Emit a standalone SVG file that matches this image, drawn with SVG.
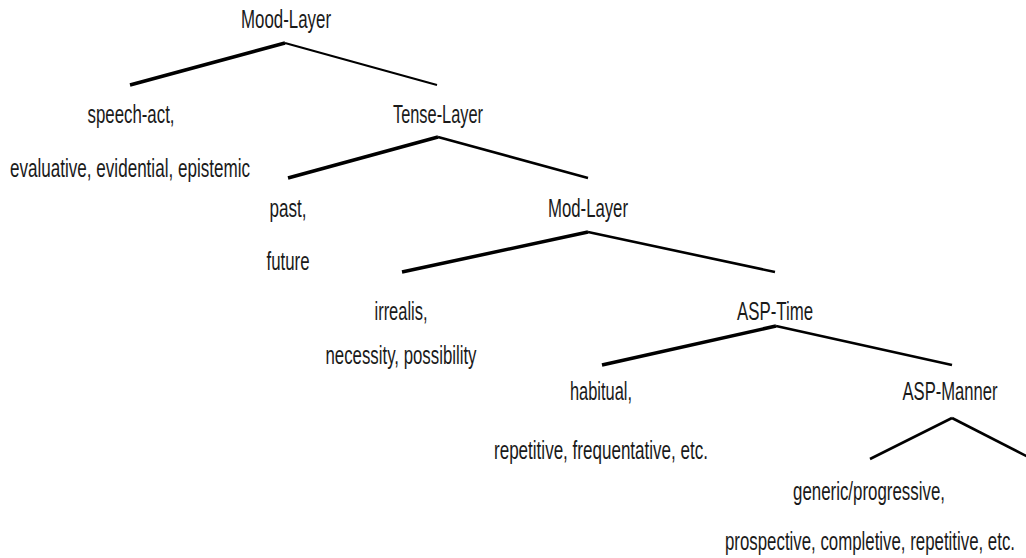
<svg xmlns="http://www.w3.org/2000/svg" width="1026" height="558" viewBox="0 0 1026 558">
<style>
text{font-family:"Liberation Sans",Arial,sans-serif;font-size:25px;fill:#1a1a1a;text-anchor:middle}
.e{fill:none;stroke:#000;stroke-linecap:butt}
.l{stroke-width:3.5}
.r{stroke-width:2.6}
</style>
<rect width="1026" height="558" fill="#fff"/>
<g id="connectors">
<polyline class="e l" points="130,85 285,43"/>
<polyline class="e" stroke-width="2" points="285,43 437,85"/>
<polyline class="e l" points="288,178 438,137"/>
<polyline class="e r" points="438,137 588,178"/>
<polyline class="e l" points="402,272 588,232"/>
<polyline class="e r" points="588,232 775,272"/>
<polyline class="e l" points="602,365 776,326"/>
<polyline class="e r" points="776,326 952,365"/>
<polyline class="e r" points="870,459 952,418"/>
<polyline class="e r" points="952,418 1034,460"/>
</g>
<g id="mood-layer"><text x="286" y="28" textLength="90" lengthAdjust="spacingAndGlyphs">Mood-Layer</text></g>
<g id="mood-leaf">
<text x="131" y="123" textLength="87" lengthAdjust="spacingAndGlyphs">speech-act,</text>
<text x="130" y="177" textLength="240" lengthAdjust="spacingAndGlyphs">evaluative, evidential, epistemic</text>
</g>
<g id="tense-layer"><text x="438" y="123" textLength="90" lengthAdjust="spacingAndGlyphs">Tense-Layer</text></g>
<g id="tense-leaf">
<text x="288" y="217" textLength="37" lengthAdjust="spacingAndGlyphs">past,</text>
<text x="288" y="270" textLength="43" lengthAdjust="spacingAndGlyphs">future</text>
</g>
<g id="mod-layer"><text x="588" y="217" textLength="80" lengthAdjust="spacingAndGlyphs">Mod-Layer</text></g>
<g id="mod-leaf">
<text x="401" y="320" textLength="53" lengthAdjust="spacingAndGlyphs">irrealis,</text>
<text x="401" y="364" textLength="151" lengthAdjust="spacingAndGlyphs">necessity, possibility</text>
</g>
<g id="asp-time"><text x="775" y="320" textLength="76" lengthAdjust="spacingAndGlyphs">ASP-Time</text></g>
<g id="asp-time-leaf">
<text x="601" y="400" textLength="62" lengthAdjust="spacingAndGlyphs">habitual,</text>
<text x="601" y="459" textLength="214" lengthAdjust="spacingAndGlyphs">repetitive, frequentative, etc.</text>
</g>
<g id="asp-manner"><text x="950" y="400" textLength="95" lengthAdjust="spacingAndGlyphs">ASP-Manner</text></g>
<g id="asp-manner-leaf">
<text x="869" y="500" textLength="152" lengthAdjust="spacingAndGlyphs">generic/progressive,</text>
<text x="870" y="550" textLength="290" lengthAdjust="spacingAndGlyphs">prospective, completive, repetitive, etc.</text>
</g>
</svg>
